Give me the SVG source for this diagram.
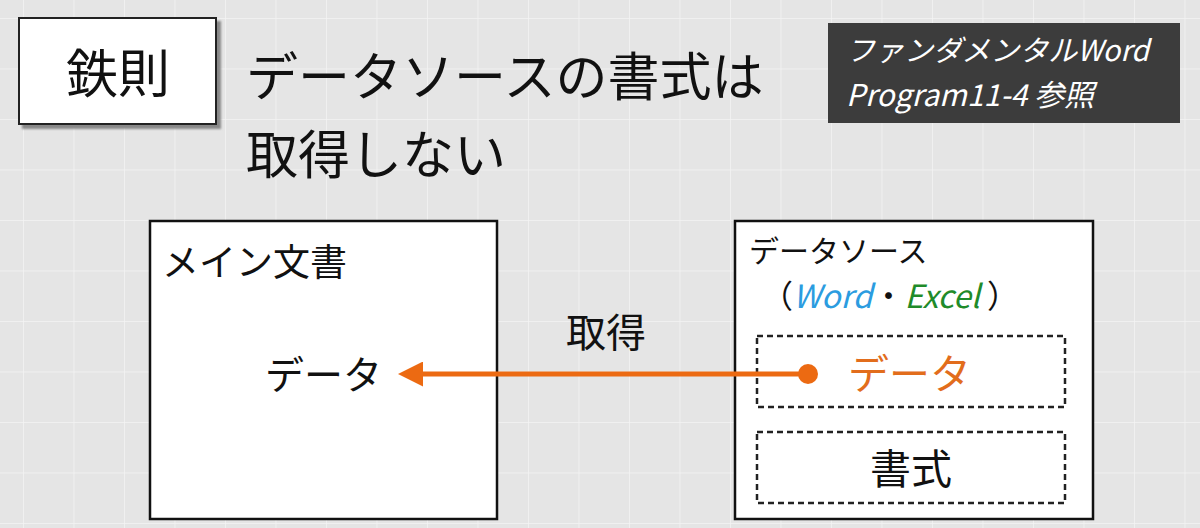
<svg xmlns="http://www.w3.org/2000/svg" width="1200" height="528" viewBox="0 0 1200 528">
<defs>
<pattern id="grid" x="23" y="18" width="50.5" height="50.5" patternUnits="userSpaceOnUse">
<rect width="51" height="51" fill="#e5e5e5"/>
<path d="M0 0H51M0 0V51" stroke="#f4f4f4" stroke-width="1.5"/>
</pattern>
<marker id="ah" viewBox="0 0 10 10" refX="2" refY="5" markerWidth="5" markerHeight="5" orient="auto-start-reverse" markerUnits="strokeWidth">
<path d="M0 0L10 5L0 10Z" fill="#ec6a12"/>
</marker>
<filter id="sh" x="-5%" y="-5%" width="115%" height="120%"><feDropShadow dx="4" dy="4" stdDeviation="1" flood-color="#888"/></filter>
</defs>
<style>
text{font-family:"Noto Sans CJK JP","Noto Sans",sans-serif;fill:#111}
.box{fill:#fff;stroke:#111;stroke-width:2.5}
.dash{fill:none;stroke:#222;stroke-width:2.5;stroke-dasharray:6 4}
</style>
<rect width="1200" height="528" fill="url(#grid)"/>
<g id="rule">
<rect x="19" y="18" width="197" height="106" fill="#fff" stroke="#222" stroke-width="2" filter="url(#sh)"/>
<text x="118" y="93" font-size="52" text-anchor="middle">鉄則</text>
</g>
<g id="title">
<text x="246" y="96" font-size="52">データソースの書式は</text>
<text x="246" y="174" font-size="52">取得しない</text>
</g>
<g id="ref">
<rect x="828" y="23" width="352" height="100" fill="#3c3c3c"/>
<text x="846" y="61" font-size="29" font-style="italic" style="fill:#fff">ファンダメンタルWord</text>
<text x="846" y="106" font-size="30" font-style="italic" style="fill:#fff">Program11-4 参照</text>
</g>
<g id="main">
<rect class="box" x="150" y="221" width="347" height="298"/>
<text x="162" y="276" font-size="37">メイン文書</text>
<text x="265" y="389" font-size="39">データ</text>
</g>
<g id="source">
<rect class="box" x="735" y="221" width="358" height="298"/>
<text x="749" y="262" font-size="30">データソース</text>
<text x="761" y="308" font-size="32">（<tspan font-style="italic" style="fill:#2b9ce0">Word</tspan>・<tspan font-style="italic" style="fill:#1f8b2a">Excel</tspan> ）</text>
<rect class="dash" x="757" y="336" width="308" height="71"/>
<text x="848" y="389" font-size="41" style="fill:#e26d1c">データ</text>
<rect class="dash" x="757" y="432" width="308" height="71"/>
<text x="911" y="484" font-size="41" text-anchor="middle">書式</text>
</g>
<g id="connectors">
<line x1="808" y1="374" x2="418" y2="374" stroke="#ec6a12" stroke-width="5" marker-end="url(#ah)"/>
<circle cx="808" cy="374" r="10" fill="#ec6a12"/>
<text x="606" y="347" font-size="40" text-anchor="middle">取得</text>
</g>
</svg>
